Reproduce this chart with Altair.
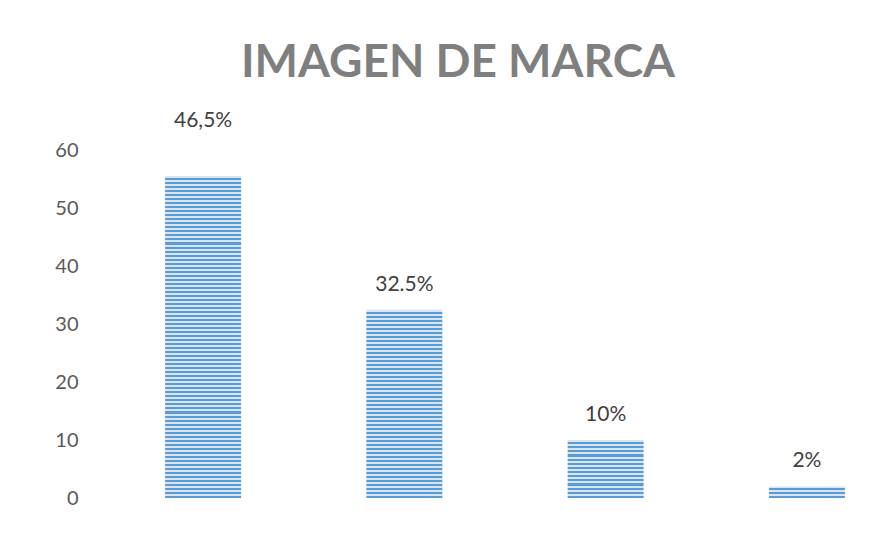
import altair as alt
import pandas as pd

categories = ["A", "B", "C", "D"]
values = [55.5, 32.5, 10, 2]
labels = ["46,5%", "32.5%", "10%", "2%"]
y_ticks = [0, 10, 20, 30, 40, 50, 60]

df = pd.DataFrame({"cat": categories, "value": values, "label": labels,
                   "idx": list(range(len(categories)))})

PLOT_W, PLOT_H = 766, 348
Y_MAX = 60
PERIOD = 4.0
DARK = "#5b9bd5"
LIGHT = "#d6e6f5"

x_enc = alt.X("cat:N", sort=None, axis=None,
              scale=alt.Scale(paddingInner=0.6225, paddingOuter=0.214))
y_scale = alt.Scale(domain=[0, Y_MAX], nice=False)
y_axis = alt.Axis(values=y_ticks, grid=False, domain=False, ticks=False,
                  labelPadding=44, labelFontSize=20, labelColor="#595959",
                  labelFont="Lato", title=None)


def stripes(v):
    h = v / Y_MAX * PLOT_H
    n = max(1, int(round(h / PERIOD)))
    stops = []
    for i in range(n):
        a, m, b = i / n, (i + 0.5) / n, (i + 1) / n
        stops += [alt.GradientStop(offset=a, color=LIGHT),
                  alt.GradientStop(offset=m, color=LIGHT),
                  alt.GradientStop(offset=m, color=DARK),
                  alt.GradientStop(offset=b, color=DARK)]
    return alt.Gradient(gradient="linear", stops=stops, x1=0, x2=0, y1=0, y2=1)


base = alt.Chart(df)
layers = []
for i, c in enumerate(categories):
    layers.append(
        base.transform_filter(alt.datum.idx == i)
        .mark_bar(fill=stripes(values[i]))
        .encode(x=x_enc, y=alt.Y("value:Q", scale=y_scale, axis=y_axis))
    )

txt_first = base.transform_filter(alt.datum.idx == 0).mark_text(
    dy=-55, baseline="middle", fontSize=21, font="Lato", color="#404040"
).encode(x=x_enc, y=alt.Y("value:Q", scale=y_scale), text="label:N")
txt_rest = base.transform_filter(alt.datum.idx > 0).mark_text(
    dy=-25, baseline="middle", fontSize=21, font="Lato", color="#404040"
).encode(x=x_enc, y=alt.Y("value:Q", scale=y_scale), text="label:N")

chart = alt.layer(*layers, txt_first, txt_rest).properties(
    width=PLOT_W, height=PLOT_H,
    autosize=alt.AutoSizeParams(type="none"),
    padding={"left": 114, "top": 142, "right": 0, "bottom": 30},
    title=alt.TitleParams("IMAGEN DE MARCA", fontSize=46, font="Lato",
                          fontWeight="bold", color="#7f7f7f", anchor="middle",
                          dx=-47, offset=-13, baseline="alphabetic"),
).configure_view(stroke=None)

chart.save("out.html", embed_options={"renderer": "svg", "actions": False})
